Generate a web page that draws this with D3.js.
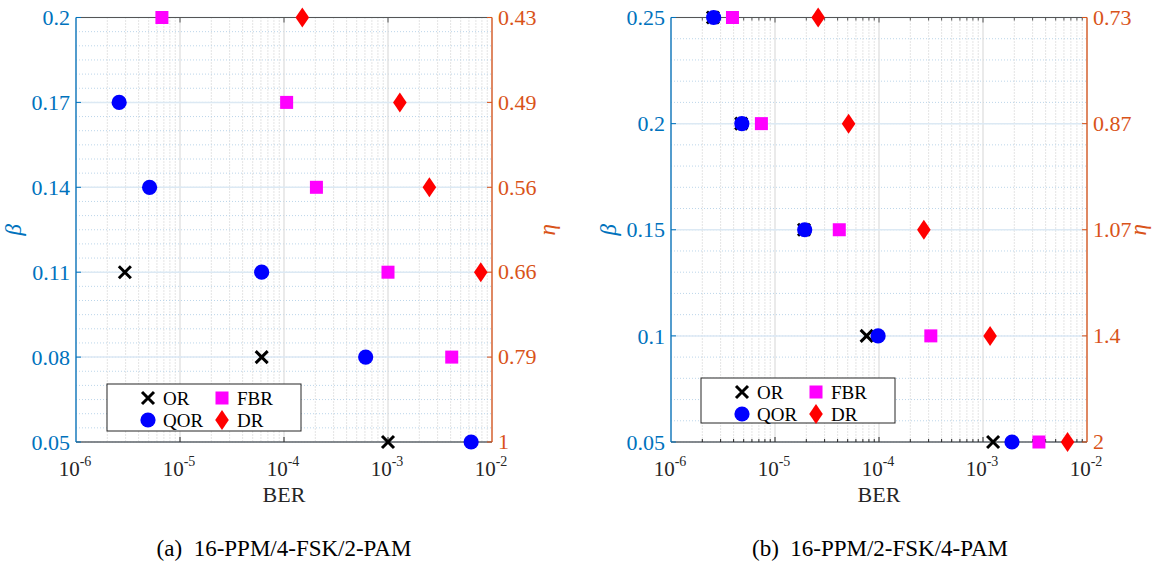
<!DOCTYPE html>
<html>
<head>
<meta charset="utf-8">
<script src="https://cdn.jsdelivr.net/npm/d3@7"></script>
<style>
  body { margin: 0; background: #fff; }
</style>
</head>
<body>
<svg id="chart" width="1163" height="566" font-family="'Liberation Serif', 'Times New Roman', serif"></svg>
<script>
// ---- data ----
var berTicks = [1e-6, 1e-5, 1e-4, 1e-3, 1e-2];
var berTickLabels = ["-6", "-5", "-4", "-3", "-2"];
var seriesNames = ["OR", "QOR", "FBR", "DR"];

// panel (a) 16-PPM/4-FSK/2-PAM
var betaTicksA = [0.05, 0.08, 0.11, 0.14, 0.17, 0.2];
var etaLabelsA = ["1", "0.79", "0.66", "0.56", "0.49", "0.43"];
var orA  = [[2.95e-6, 0.11], [6.1e-5, 0.08], [1.0e-3, 0.05]];
var qorA = [[2.6e-6, 0.17], [5.1e-6, 0.14], [6.1e-5, 0.11], [6.1e-4, 0.08], [6.3e-3, 0.05]];
var fbrA = [[6.7e-6, 0.2], [1.06e-4, 0.17], [2.05e-4, 0.14], [1.0e-3, 0.11], [4.1e-3, 0.08]];
var drA  = [[1.5e-4, 0.2], [1.3e-3, 0.17], [2.5e-3, 0.14], [7.8e-3, 0.11]];

// panel (b) 16-PPM/2-FSK/4-PAM
var betaTicksB = [0.05, 0.1, 0.15, 0.2, 0.25];
var etaLabelsB = ["2", "1.4", "1.07", "0.87", "0.73"];
var orB  = [[2.53e-6, 0.25], [4.73e-6, 0.2], [1.9e-5, 0.15], [7.6e-5, 0.1], [1.25e-3, 0.05]];
var qorB = [[2.57e-6, 0.25], [4.8e-6, 0.2], [1.93e-5, 0.15], [9.8e-5, 0.1], [1.9e-3, 0.05]];
var fbrB = [[3.9e-6, 0.25], [7.4e-6, 0.2], [4.15e-5, 0.15], [3.15e-4, 0.1], [3.45e-3, 0.05]];
var drB  = [[2.6e-5, 0.25], [5.1e-5, 0.2], [2.7e-4, 0.15], [1.17e-3, 0.1], [6.5e-3, 0.05]];

var colLeft = "#0072BD", colRight = "#D95319", colAxis = "#262626";
var svg = d3.select("#chart");

// marker drawing
function drawMarker(g, kind, x, y)
{
	if (kind === "OR") {
		var s = 6;
		g.append("path")
			.attr("d", "M" + (x - s) + "," + (y - s) + "L" + (x + s) + "," + (y + s) +
			           "M" + (x - s) + "," + (y + s) + "L" + (x + s) + "," + (y - s))
			.attr("stroke", "#000").attr("stroke-width", 3).attr("fill", "none");
	} else if (kind === "QOR") {
		g.append("circle").attr("cx", x).attr("cy", y).attr("r", 7.6).attr("fill", "#0000FF");
	} else if (kind === "FBR") {
		g.append("rect").attr("x", x - 6.5).attr("y", y - 6.5)
			.attr("width", 13).attr("height", 13).attr("fill", "#FF00FF");
	} else {
		g.append("path")
			.attr("d", "M" + x + "," + (y - 10) + "L" + (x + 6.8) + "," + y +
			           "L" + x + "," + (y + 10) + "L" + (x - 6.8) + "," + y + "Z")
			.attr("fill", "#FF0000");
	}
}

function drawPanel(cfg)
{
	var x = d3.scaleLog().domain([1e-6, 1e-2]).range([cfg.x0, cfg.x1]);
	var y = d3.scaleLinear().domain([cfg.betaTicks[0], cfg.betaTicks[cfg.betaTicks.length - 1]])
		.range([cfg.yBot, cfg.yTop]);
	var g = svg.append("g");

	// minor grid
	var minorX = [];
	for (var e = -6; e < -2; e++)
		for (var m = 2; m <= 9; m++) minorX.push(m * Math.pow(10, e));
	g.selectAll(".mgx").data(minorX).enter().append("line")
		.attr("x1", d => x(d)).attr("x2", d => x(d))
		.attr("y1", cfg.yTop).attr("y2", cfg.yBot)
		.attr("stroke", "#c8c8c8").attr("stroke-width", 1).attr("stroke-dasharray", "1,2");
	var minorY = d3.range(cfg.betaTicks[0], cfg.betaTicks[cfg.betaTicks.length - 1] + 1e-9, cfg.minorStep);
	g.selectAll(".mgy").data(minorY).enter().append("line")
		.attr("x1", cfg.x0).attr("x2", cfg.x1)
		.attr("y1", d => y(d)).attr("y2", d => y(d))
		.attr("stroke", "#bcd6ea").attr("stroke-width", 1).attr("stroke-dasharray", "1,2");

	// major grid
	g.selectAll(".gx").data(berTicks).enter().append("line")
		.attr("x1", d => x(d)).attr("x2", d => x(d))
		.attr("y1", cfg.yTop).attr("y2", cfg.yBot)
		.attr("stroke", "#dcdcdc").attr("stroke-width", 1.2);
	g.selectAll(".gy").data(cfg.betaTicks).enter().append("line")
		.attr("x1", cfg.x0).attr("x2", cfg.x1)
		.attr("y1", d => y(d)).attr("y2", d => y(d))
		.attr("stroke", "#dce9f4").attr("stroke-width", 1.5);

	// box: top and bottom
	g.append("line").attr("x1", cfg.x0).attr("x2", cfg.x1).attr("y1", cfg.yTop).attr("y2", cfg.yTop)
		.attr("stroke", "#555").attr("stroke-width", 1.2);
	g.append("line").attr("x1", cfg.x0).attr("x2", cfg.x1).attr("y1", cfg.yBot).attr("y2", cfg.yBot)
		.attr("stroke", colAxis).attr("stroke-width", 1.2);

	// x ticks (top & bottom)
	var tickX = berTicks.slice(1, -1);
	tickX.forEach(function (d) {
		g.append("line").attr("x1", x(d)).attr("x2", x(d)).attr("y1", cfg.yBot).attr("y2", cfg.yBot - 5)
			.attr("stroke", colAxis);
		g.append("line").attr("x1", x(d)).attr("x2", x(d)).attr("y1", cfg.yTop).attr("y2", cfg.yTop + 5)
			.attr("stroke", "#555");
	});
	if (cfg.minorTicks) {
		minorX.forEach(function (d) {
			g.append("line").attr("x1", x(d)).attr("x2", x(d)).attr("y1", cfg.yBot).attr("y2", cfg.yBot - 3)
				.attr("stroke", colAxis);
			g.append("line").attr("x1", x(d)).attr("x2", x(d)).attr("y1", cfg.yTop).attr("y2", cfg.yTop + 3)
				.attr("stroke", "#555");
		});
	}

	// x tick labels 10^k
	berTicks.forEach(function (d, i) {
		var t = g.append("text").attr("x", x(d) - 1).attr("y", cfg.yBot + 34)
			.attr("text-anchor", "middle").attr("fill", colAxis).attr("font-size", 21);
		t.append("tspan").text("10");
		t.append("tspan").attr("dy", -10).attr("font-size", 14).text(berTickLabels[i]);
	});
	g.append("text").attr("x", (cfg.x0 + cfg.x1) / 2).attr("y", cfg.yBot + 60)
		.attr("text-anchor", "middle").attr("fill", colAxis).attr("font-size", 22).text("BER");

	// left axis (beta)
	g.append("line").attr("x1", cfg.x0).attr("x2", cfg.x0).attr("y1", cfg.yTop).attr("y2", cfg.yBot)
		.attr("stroke", colLeft).attr("stroke-width", 1.3);
	cfg.betaTicks.forEach(function (d) {
		g.append("line").attr("x1", cfg.x0).attr("x2", cfg.x0 + 5).attr("y1", y(d)).attr("y2", y(d))
			.attr("stroke", colLeft);
		g.append("text").attr("x", cfg.x0 - 6).attr("y", y(d)).attr("dy", "0.35em")
			.attr("text-anchor", "end").attr("fill", colLeft).attr("font-size", 22).text(d);
	});
	g.append("text").attr("transform", "translate(" + (cfg.x0 - 55) + "," + ((cfg.yTop + cfg.yBot) / 2) + ") rotate(-90)")
		.attr("text-anchor", "middle").attr("fill", colLeft).attr("font-size", 23)
		.attr("font-style", "italic").text("\u03B2");

	// right axis (eta)
	g.append("line").attr("x1", cfg.x1).attr("x2", cfg.x1).attr("y1", cfg.yTop).attr("y2", cfg.yBot)
		.attr("stroke", colRight).attr("stroke-width", 1.3);
	cfg.betaTicks.forEach(function (d, i) {
		g.append("line").attr("x1", cfg.x1).attr("x2", cfg.x1 - 5).attr("y1", y(d)).attr("y2", y(d))
			.attr("stroke", colRight);
		g.append("text").attr("x", cfg.x1 + 6).attr("y", y(d)).attr("dy", "0.33em")
			.attr("text-anchor", "start").attr("fill", colRight).attr("font-size", 22).text(cfg.etaLabels[i]);
	});
	g.append("text").attr("transform", "translate(" + (cfg.x1 + cfg.etaOffset) + "," + ((cfg.yTop + cfg.yBot) / 2) + ") rotate(-90)")
		.attr("text-anchor", "middle").attr("fill", colRight).attr("font-size", 23)
		.attr("font-style", "italic").text("\u03B7");

	// points
	var series = [cfg.or, cfg.qor, cfg.fbr, cfg.dr];
	series.forEach(function (pts, k) {
		pts.forEach(function (p) { drawMarker(g, seriesNames[k], x(p[0]), y(p[1])); });
	});

	// legend
	var L = cfg.legend;
	g.append("rect").attr("x", L.x).attr("y", L.y).attr("width", L.w).attr("height", L.h)
		.attr("fill", "#fff").attr("stroke", colAxis).attr("stroke-width", 1);
	seriesNames.forEach(function (name, k) {
		var col = (k === 0 || k === 1) ? 0 : 1;
		var row = (k === 0 || k === 2) ? 0 : 1;
		var mx = L.x + 41 + col * 74;
		var my = L.y + 14 + row * 22;
		drawMarker(g, name, mx, my);
		g.append("text").attr("x", mx + 15).attr("y", my).attr("dy", "0.35em")
			.attr("fill", "#000").attr("font-size", 19).text(name);
	});

	// caption
	svg.append("text").attr("x", cfg.capX).attr("y", 556).attr("text-anchor", "middle")
		.attr("fill", "#000").attr("font-size", 23).style("white-space", "pre").text(cfg.caption);
}

drawPanel({
	x0: 76, x1: 492, yTop: 17.5, yBot: 442,
	betaTicks: betaTicksA, etaLabels: etaLabelsA, minorStep: 0.005, minorTicks: false,
	or: orA, qor: qorA, fbr: fbrA, dr: drA, etaOffset: 63,
	legend: { x: 107, y: 384, w: 194, h: 47 },
	caption: "(a)  16-PPM/4-FSK/2-PAM", capX: 284
});
drawPanel({
	x0: 671, x1: 1087, yTop: 17.5, yBot: 442,
	betaTicks: betaTicksB, etaLabels: etaLabelsB, minorStep: 0.01, minorTicks: true,
	or: orB, qor: qorB, fbr: fbrB, dr: drB, etaOffset: 59,
	legend: { x: 701, y: 378, w: 194, h: 45 },
	caption: "(b)  16-PPM/2-FSK/4-PAM", capX: 880
});
</script>
</body>
</html>
